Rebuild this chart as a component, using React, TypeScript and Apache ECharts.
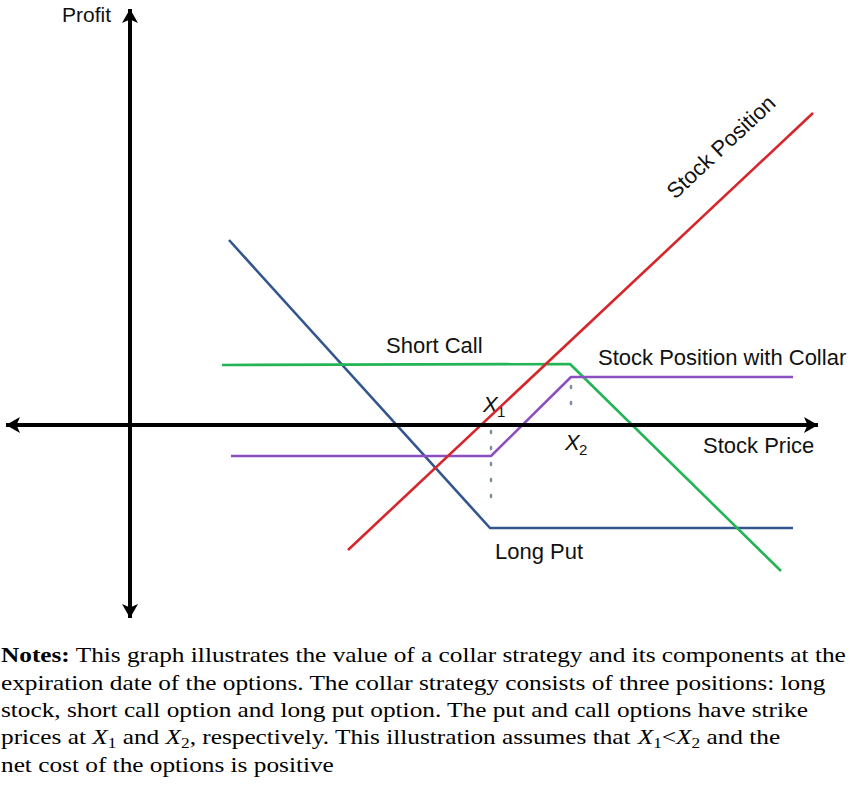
import React, { useEffect, useRef } from "react";
import * as echarts from "echarts";

// Payoff lines (x: stock price units, y: profit units)
const stockPosition: [number, number][] = [[21.8, -12.5], [68.3, 31.2]];
const longPut: [number, number][] = [[9.9, 18.5], [36.0, -10.3], [66.3, -10.3]];
const shortCall: [number, number][] = [[9.2, 6.0], [44.0, 6.1], [65.1, -14.6]];
const collar: [number, number][] = [[10.1, -3.1], [36.1, -3.1], [44.1, 4.8], [66.3, 4.8]];
// Strike guides
const strikeX1: [number, number][] = [[36.1, -0.6], [36.1, -7.2]];
const strikeX2: [number, number][] = [[44.1, 3.9], [44.1, 1.0]];
// Axes extents
const xAxisLine: [number, number][] = [[-12.4, 0], [68.8, 0]];
const yAxisLine: [number, number][] = [[0, 41.6], [0, -19.3]];

const noteLines = [
  "{b|Notes:} This graph illustrates the value of a collar strategy and its components at the",
  "expiration date of the options. The collar strategy consists of three positions: long",
  "stock, short call option and long put option. The put and call options have strike",
  "prices at {i|X}{s|1} and {i|X}{s|2}, respectively. This illustration assumes that {i|X}{s|1}<{i|X}{s|2} and the",
  "net cost of the options is positive",
];

export default function App() {
  const ref = useRef<HTMLDivElement>(null);
  useEffect(() => {
    if (!ref.current) return;
    const chart = echarts.init(ref.current, null, { renderer: "svg" });
    const sans = "Liberation Sans, Arial, sans-serif";
    const serif = "Liberation Serif, Times New Roman, serif";
    const lbl = (text: string, x: number, y: number, extra: any = {}) => ({
      type: "text",
      x,
      y,
      style: { text, font: `22px ${sans}`, fill: "#111", textVerticalAlign: "middle", ...extra },
    });
    const sub = (x: number, y: number, main: string, s: string) => [
      { type: "text", x, y, style: { text: main, font: `italic 22px ${sans}`, fill: "#111", textVerticalAlign: "middle" } },
      { type: "text", x: x + 14, y: y + 7, style: { text: s, font: `15px ${sans}`, fill: "#111", textVerticalAlign: "middle" } },
    ];
    const axisLine = (pts: [number, number][]) => ({
      type: "line",
      data: [],
      silent: true,
      markLine: {
        silent: true,
        symbol: ["arrow", "arrow"],
        symbolSize: [12, 14],
        label: { show: false },
        lineStyle: { color: "#000", width: 4, type: "solid" },
        data: [[{ coord: pts[0] }, { coord: pts[1] }]],
      },
    });
    const line = (data: [number, number][], color: string, width = 2.6) => ({
      type: "line",
      data,
      symbol: "none",
      silent: true,
      lineStyle: { color, width },
    });
    const dotted = (data: [number, number][]) => ({
      type: "line",
      data,
      symbol: "none",
      silent: true,
      lineStyle: { color: "#7d8fa6", width: 2.5, type: [2, 14], cap: "round" },
    });
    chart.setOption({
      animation: false,
      backgroundColor: "#fff",
      grid: { left: 0, top: 5, width: 850, height: 620 },
      xAxis: { type: "value", min: -13, max: 72, show: false },
      yAxis: { type: "value", min: -20, max: 42, show: false },
      series: [
        axisLine(xAxisLine),
        axisLine(yAxisLine),
        dotted(strikeX1),
        dotted(strikeX2),
        line(longPut, "#34568f"),
        line(shortCall, "#22b455"),
        line(collar, "#8c4fc1"),
        line(stockPosition, "#d7262b"),
      ],
      graphic: [
        lbl("Profit", 62, 14, { font: `21px ${sans}` }),
        {
          type: "text",
          x: 721,
          y: 147,
          rotation: (43 * Math.PI) / 180,
          style: { text: "Stock Position", font: `22px ${sans}`, fill: "#111", textAlign: "center", textVerticalAlign: "middle" },
        },
        lbl("Short Call", 386, 345),
        lbl("Stock Position with Collar", 598, 357),
        lbl("Stock Price", 703, 445),
        lbl("Long Put", 495, 551),
        ...sub(483, 404, "X", "1"),
        ...sub(565, 442, "X", "2"),
        ...noteLines.map((t, i) => ({
          type: "text",
          x: 1,
          y: 655 + i * 27.3,
          scaleX: 1.15,
          style: {
            text: t,
            fill: "#000",
            textVerticalAlign: "middle",
            font: `22px ${serif}`,
            lineHeight: 26,
            rich: {
              b: { fontWeight: "bold", fontSize: 22, fontFamily: serif, lineHeight: 26 },
              i: { fontStyle: "italic", fontSize: 22, fontFamily: serif, lineHeight: 26 },
              s: { fontSize: 15, fontFamily: serif, verticalAlign: "bottom", lineHeight: 12 },
            },
          },
        })),
      ],
    });
    return () => chart.dispose();
  }, []);
  return (
    <div
      ref={ref}
      style={{ position: "absolute", left: 0, top: 0, width: 850, height: 792, background: "#fff" }}
    />
  );
}
